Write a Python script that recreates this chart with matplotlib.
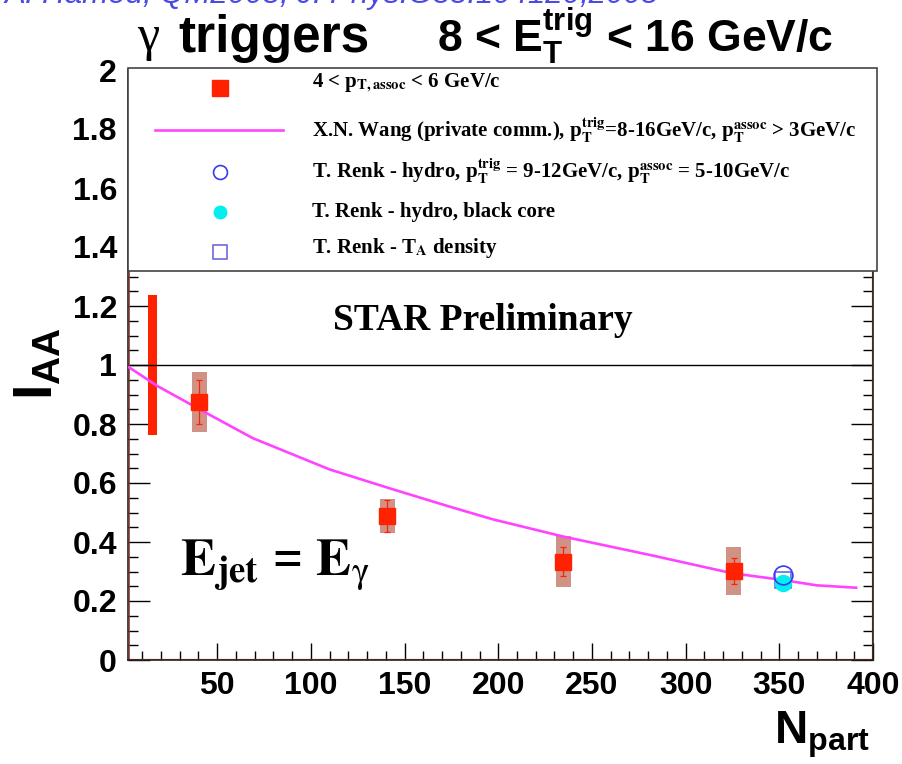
import matplotlib
matplotlib.use("Agg")
import matplotlib.pyplot as plt
from matplotlib.patches import Rectangle
from matplotlib.lines import Line2D
from matplotlib.ticker import MultipleLocator, FixedLocator

plt.rcParams['mathtext.fontset'] = 'custom'
plt.rcParams['mathtext.rm'] = 'Liberation Sans:bold'
plt.rcParams['mathtext.bf'] = 'Liberation Sans:bold'
plt.rcParams['mathtext.it'] = 'Liberation Sans:bold'

# ---- data ----
npart = [40.4, 140.8, 234.7, 325.6]
iaa = [0.874, 0.487, 0.333, 0.303]
stat_lo = [0.800, 0.435, 0.285, 0.258]
stat_hi = [0.949, 0.542, 0.382, 0.346]
sys_lo = [0.772, 0.429, 0.246, 0.220]
sys_hi = [0.975, 0.546, 0.421, 0.384]

norm_x = 15.5
norm_lo = 0.763
norm_hi = 1.237

wang_x = [3, 18, 44, 69, 110, 142, 174, 197, 235, 281, 325, 352, 370, 391]
wang_y = [0.992, 0.929, 0.838, 0.752, 0.646, 0.582, 0.520, 0.477, 0.418, 0.356, 0.294, 0.271, 0.253, 0.245]

renk_x = [352]
renk_hydro = [0.288]
renk_black = [0.260]
renk_ta = [0.270]

xticks = [50, 100, 150, 200, 250, 300, 350, 400]
yticks = [0, 0.2, 0.4, 0.6, 0.8, 1, 1.2, 1.4, 1.6, 1.8, 2]
ytick_labels = ['0', '0.2', '0.4', '0.6', '0.8', '1', '1.2', '1.4', '1.6', '1.8', '2']

legend_labels = [
    r'4 < p$_{\mathbf{T,assoc}}$ < 6 GeV/c',
    r'X.N. Wang (private comm.), p$_{\mathbf{T}}^{\mathbf{trig}}$=8-16GeV/c, p$_{\mathbf{T}}^{\mathbf{assoc}}$ > 3GeV/c',
    r'T. Renk - hydro, p$_{\mathbf{T}}^{\mathbf{trig}}$ = 9-12GeV/c, p$_{\mathbf{T}}^{\mathbf{assoc}}$ = 5-10GeV/c',
    r'T. Renk - hydro, black core',
    r'T. Renk - T$_{\mathbf{A}}$ density',
]

RED = '#ff2200'
BOX = '#d09285'
MAG = '#ff44ff'

W, H = 903, 764
fig = plt.figure(figsize=(W / 100, H / 100), dpi=100)
ax = fig.add_axes([128 / W, 1 - 660 / H, 745 / W, 590 / H])
ax.set_xlim(2.4, 400)
ax.set_ylim(0, 2)

# systematic boxes
for x, lo, hi in zip(npart, sys_lo, sys_hi):
    ax.add_patch(Rectangle((x - 3.9, lo), 7.8, hi - lo, facecolor=BOX, edgecolor='none', zorder=2))
# normalisation bar
ax.add_patch(Rectangle((norm_x - 2.4, norm_lo), 4.8, norm_hi - norm_lo, facecolor=RED, edgecolor='none', zorder=2))

# reference line
ax.axhline(1.0, color='black', lw=1.0, zorder=2)

# theory curve
ax.plot(wang_x, wang_y, color=MAG, lw=1.9, zorder=3)

# data
yerr = [[v - l for v, l in zip(iaa, stat_lo)], [h - v for v, h in zip(iaa, stat_hi)]]
ax.errorbar(npart, iaa, yerr=yerr, fmt='s', color=RED, ms=11.5, elinewidth=0.9,
            capsize=2.2, capthick=0.9, mec=RED, zorder=4)

# Renk points
ax.plot(renk_x, renk_ta, 's', ms=12, mfc='none', mec='#6a6ae0', mew=1.2, zorder=5)
ax.plot(renk_x, renk_black, 'o', ms=11.5, color='#00f0f0', mec='#00f0f0', zorder=6)
ax.plot(renk_x, renk_hydro, 'o', ms=13.5, mfc='none', mec='#3a3aee', mew=1.2, zorder=7)

# faint red lines at frame
ax.axhline(0.004, color='#ff5030', lw=0.9, zorder=2)
ax.axvline(399.5, color='#ff5030', lw=0.9, zorder=2)
ax.axvline(2.9, color='#b03020', lw=0.6, zorder=2)

# ticks
ax.xaxis.set_major_locator(FixedLocator(xticks))
ax.xaxis.set_minor_locator(MultipleLocator(10))
ax.set_yticks(yticks)
ax.set_yticklabels(ytick_labels)
ax.yaxis.set_minor_locator(MultipleLocator(0.05))
ax.tick_params(axis='both', which='both', direction='in')
ax.tick_params(axis='y', which='major', length=15.8, width=1.0, right=True, left=True, pad=8)
ax.tick_params(axis='y', which='minor', length=7.2, width=1.0, right=True, left=True)
ax.tick_params(axis='x', which='major', length=12.2, width=1.0, top=False, pad=8)
ax.tick_params(axis='x', which='minor', length=6.5, width=1.0, top=False)
for lab in ax.get_xticklabels() + ax.get_yticklabels():
    lab.set_fontfamily('Liberation Sans')
    lab.set_fontweight('bold')
    lab.set_fontsize(23)
for sp in ax.spines.values():
    sp.set_color('#222222')
    sp.set_linewidth(1.2)

# legend box
ax.add_patch(Rectangle((0, 0.659), 1.0054, 0.341 + 0.003, transform=ax.transAxes,
                       facecolor='white', edgecolor='#444444', lw=1.2, zorder=10, clip_on=False))
mx = (220 - 128) / 745
tx = (312 - 128) / 745
def yf(py):
    return (660 - py) / 590
ax.add_line(Line2D([mx], [yf(88)], marker='s', ms=11.5, color=RED, ls='none',
                   transform=ax.transAxes, zorder=11, clip_on=False))
ax.add_line(Line2D([(155 - 128) / 745, (283 - 128) / 745], [yf(130), yf(130)], color=MAG, lw=1.9,
                   transform=ax.transAxes, zorder=11, clip_on=False))
ax.add_line(Line2D([mx], [yf(171.7)], marker='o', ms=10, mfc='none', mec='#3a3aee', mew=1.2, ls='none',
                   transform=ax.transAxes, zorder=11, clip_on=False))
ax.add_line(Line2D([mx], [yf(211.7)], marker='o', ms=9, color='#00f0f0', ls='none',
                   transform=ax.transAxes, zorder=11, clip_on=False))
ax.add_line(Line2D([mx], [yf(251.7)], marker='s', ms=9.5, mfc='none', mec='#6a6ae0', mew=1.2, ls='none',
                   transform=ax.transAxes, zorder=11, clip_on=False))
for lab, py in zip(legend_labels, [88, 137, 178, 217, 253]):
    ax.text(tx, yf(py), lab, transform=ax.transAxes, fontsize=15, fontfamily='Liberation Serif',
            fontweight='bold', va='baseline', ha='left', zorder=12, math_fontfamily='stix')

# annotations
ax.text((483 - 128) / 745, yf(320), 'STAR Preliminary', transform=ax.transAxes, fontsize=27,
        fontfamily='Liberation Serif', fontweight='bold', ha='center', va='center', zorder=5)
ax.text((180 - 128) / 745, yf(575), r'$\mathbf{E_{jet}}$ = $\mathbf{E}_{\mathrm{γ}}$', transform=ax.transAxes,
        fontsize=38, fontfamily='Liberation Serif', fontweight='bold', ha='left', va='baseline',
        math_fontfamily='stix', zorder=5)

# axis titles
fig.text(38 / W, 1 - 363 / H, r'$\mathbf{I_{AA}}$', rotation=90, fontsize=40, ha='center', va='center',
         fontfamily='Liberation Sans', fontweight='bold')
fig.text(870 / W, 1 - 743 / H, r'$\mathbf{N_{part}}$', fontsize=33, ha='right', va='baseline',
         fontfamily='Liberation Sans', fontweight='bold')

# title
fig.text(137 / W, 1 - 50 / H, 'γ', fontsize=36, ha='left', va='baseline',
         fontfamily='Liberation Serif')
fig.text(178 / W, 1 - 52 / H, 'triggers', fontsize=37, ha='left', va='baseline',
         fontfamily='Liberation Sans', fontweight='bold')
fig.text(437 / W, 1 - 52 / H, r'8 < $\mathbf{E_{T}^{trig}}$ < 16 GeV/c', fontsize=32, ha='left', va='baseline',
         fontfamily='Liberation Sans', fontweight='bold')

# top reference (cut off at the top edge, as in the original)
fig.text(5 / W, 1 - 3 / H, 'A. Hamed, QM2008, J. Phys.G35:104120,2008', fontsize=22.5, ha='left', va='baseline',
         fontfamily='Liberation Sans', style='italic', color='#4a4ae6')

fig.savefig('out.png', dpi=100)
